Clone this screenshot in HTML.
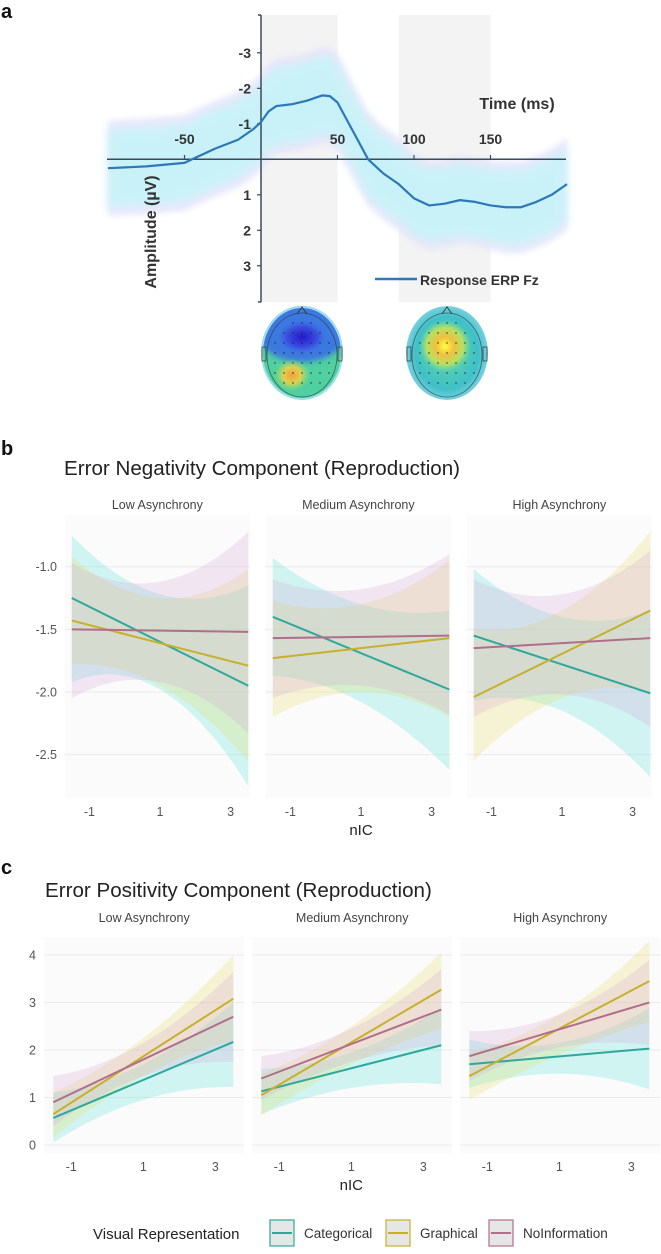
<!DOCTYPE html>
<html><head><meta charset="utf-8">
<style>
html,body{margin:0;padding:0;background:#fff;}
body{width:661px;height:1249px;overflow:hidden;font-family:"Liberation Sans",Arial,sans-serif;}
svg text{font-family:"Liberation Sans",Arial,sans-serif;}
</style></head>
<body>
<svg id="fig" width="661" height="1249" viewBox="0 0 661 1249" xmlns="http://www.w3.org/2000/svg">
<defs>
<clipPath id="clip1"><ellipse cx="302" cy="353" rx="41" ry="47"/></clipPath>
<clipPath id="clip2"><ellipse cx="447" cy="353" rx="41" ry="47"/></clipPath>
<radialGradient id="blueSpot" cx="50%" cy="50%" r="50%">
<stop offset="0" stop-color="#2418c8"/><stop offset="0.6" stop-color="#3a50e0"/><stop offset="1" stop-color="#3a80e8" stop-opacity="0"/>
</radialGradient>
<radialGradient id="orangeSpot" cx="50%" cy="50%" r="50%">
<stop offset="0" stop-color="#f0a040"/><stop offset="0.5" stop-color="#e0d050"/><stop offset="1" stop-color="#90e070" stop-opacity="0"/>
</radialGradient>
<radialGradient id="topo2" cx="50%" cy="50%" r="55%">
<stop offset="0" stop-color="#60d8a0"/><stop offset="0.7" stop-color="#40c0c8"/><stop offset="1" stop-color="#90d8ec"/>
</radialGradient>
<radialGradient id="yellowSpot" cx="50%" cy="50%" r="50%">
<stop offset="0" stop-color="#ffff40"/><stop offset="0.35" stop-color="#f0c040"/><stop offset="0.7" stop-color="#b8e060"/><stop offset="1" stop-color="#80e090" stop-opacity="0"/>
</radialGradient>
<filter id="blur3"><feGaussianBlur stdDeviation="3"/></filter>
<filter id="blur5"><feGaussianBlur stdDeviation="5"/></filter>
</defs>
</svg>
<script>
// ---------- Panel a data ----------
const erpTimes = [-100,-75,-50,-45,-30,-15,-5,0,5,10,20,30,40,45,50,60,70,80,90,100,110,120,130,140,150,160,170,180,190,200];
const erpAmps  = [0.25,0.2,0.1,0,-0.3,-0.55,-0.85,-1.05,-1.35,-1.5,-1.55,-1.65,-1.8,-1.78,-1.6,-0.8,0,0.4,0.7,1.1,1.3,1.25,1.15,1.2,1.3,1.35,1.35,1.2,1.0,0.7];
const erpHalfWidth = [1.35,1.35,1.35,1.35,1.35,1.35,1.35,1.35,1.35,1.35,1.35,1.35,1.37,1.37,1.35,1.3,1.3,1.3,1.3,1.25,1.25,1.25,1.25,1.25,1.25,1.3,1.3,1.3,1.3,1.3];
const aYTicks = [-3,-2,-1,1,2,3];
const aXTicks = [-50,50,100,150];
const aShades = [[0,50],[90,150]];

// ---------- Panel b/c data ----------
const facets = ["Low Asynchrony","Medium Asynchrony","High Asynchrony"];
const groups = ["Categorical","Graphical","NoInformation"];
const xTicksNIC = [-1,1,3];
const nicRange = [-1.5,1,3.5];
const bMeans = [
 [[-1.25,-1.95],[-1.43,-1.79],[-1.50,-1.52]],
 [[-1.40,-1.98],[-1.73,-1.57],[-1.57,-1.55]],
 [[-1.55,-2.01],[-2.04,-1.35],[-1.65,-1.57]]
];
const bUpper = [
 [[-0.75,-1.22,-1.15],[-0.92,-1.25,-1.02],[-0.97,-1.12,-0.72]],
 [[-0.93,-1.30,-1.35],[-1.27,-1.30,-0.95],[-1.10,-1.18,-0.90]],
 [[-1.02,-1.40,-1.35],[-1.50,-1.35,-0.72],[-1.10,-1.22,-0.87]]
];
const bLower = [
 [[-1.92,-1.98,-2.75],[-1.78,-1.95,-2.55],[-2.05,-1.92,-2.33]],
 [[-1.87,-2.08,-2.62],[-2.20,-2.00,-2.20],[-2.05,-1.95,-2.18]],
 [[-2.07,-2.15,-2.68],[-2.55,-2.05,-2.00],[-2.20,-2.02,-2.28]]
];
const bYTicks = [-1.0,-1.5,-2.0,-2.5];
const cMeans = [
 [[0.57,2.17],[0.65,3.08],[0.90,2.70]],
 [[1.13,2.10],[1.05,3.27],[1.40,2.85]],
 [[1.70,2.03],[1.45,3.45],[1.87,3.00]]
];
const cUpper = [
 [[1.10,1.70,3.00],[1.10,2.25,4.00],[1.45,2.15,3.65]],
 [[1.60,1.95,2.90],[1.50,2.50,4.05],[1.87,2.45,3.70]],
 [[2.22,2.15,2.88],[1.95,2.75,4.30],[2.40,2.75,3.90]]
];
const cLower = [
 [[0.05,0.95,1.22],[0.15,1.45,2.20],[0.40,1.45,1.75]],
 [[0.65,1.20,1.28],[0.62,1.70,2.45],[0.95,1.75,2.10]],
 [[1.20,1.50,1.17],[0.95,1.90,2.60],[1.35,2.05,2.10]]
];
const cYTicks = [0,1,2,3,4];

const lineColors = ["#2fa89c","#c6b02c","#b06e8c"];
const bandColors = ["#5fe3da","#e6df6a","#d6acd6"];

const NS = "http://www.w3.org/2000/svg";
const svg = document.getElementById("fig");
function mk(tag, attrs, parent){
  const e = document.createElementNS(NS, tag);
  for (const k in attrs) e.setAttribute(k, attrs[k]);
  (parent||svg).appendChild(e);
  return e;
}
function txt(str, attrs, parent){ const t = mk("text", attrs, parent); t.textContent = str; return t; }

// ================= PANEL A =================
const gA = mk("g",{});


const ax = t => 261 + t*1.53;
const ay = v => 159.3 + v*35.5;
let lab = txt("a",{x:1,y:18,"font-size":20,"font-weight":"bold",fill:"#111"},gA);


aShades.forEach(s=>{
  const r = mk("rect",{x:ax(s[0]),y:15,width:ax(s[1])-ax(s[0]),height:287,fill:"#f3f3f3"},gA);
  
  
});
function bandPath(k){
  let up = erpTimes.map((t,i)=>`${ax(t)},${ay(erpAmps[i]-erpHalfWidth[i]*k)}`);
  let lo = erpTimes.map((t,i)=>`${ax(t)},${ay(erpAmps[i]+erpHalfWidth[i]*k)}`).reverse();
  return "M"+up.join("L")+"L"+lo.join("L")+"Z";
}
let b1 = mk("path",{d:bandPath(1.0),fill:"#e8e4fa",opacity:0.85,filter:"url(#blur3)"},gA);


let b2 = mk("path",{d:bandPath(0.82),fill:"#c4f4f8",opacity:0.85,filter:"url(#blur5)"},gA);


let xAxis = mk("line",{x1:107,y1:159.3,x2:566,y2:159.3,stroke:"#3a4a5c","stroke-width":1.5},gA);


let yAxis = mk("line",{x1:261,y1:15,x2:261,y2:302,stroke:"#3a4a5c","stroke-width":1.5},gA);


mk("line",{x1:258,y1:15,x2:261,y2:15,stroke:"#3a4a5c","stroke-width":1.5},gA);
mk("line",{x1:258,y1:302,x2:261,y2:302,stroke:"#3a4a5c","stroke-width":1.5},gA);
aYTicks.forEach(v=>{
  mk("line",{x1:257,y1:ay(v),x2:261,y2:ay(v),stroke:"#3a4a5c","stroke-width":1.2},gA);
  const t = txt(String(v),{x:251,y:ay(v)+5,"font-size":14,"font-weight":"bold",fill:"#333","text-anchor":"end"},gA);
  
  
});
aXTicks.forEach(v=>{
  mk("line",{x1:ax(v),y1:155,x2:ax(v),y2:159.3,stroke:"#3a4a5c","stroke-width":1.2},gA);
  const t = txt(String(v),{x:ax(v),y:144,"font-size":14,"font-weight":"bold",fill:"#333","text-anchor":"middle"},gA);
  
  
});
let xt = txt("Time (ms)",{x:517,y:109,"font-size":16,"font-weight":"bold",fill:"#333","text-anchor":"middle"},gA);


let yt = txt("Amplitude (µV)",{x:0,y:0,"font-size":16,"font-weight":"bold",fill:"#333","text-anchor":"middle",transform:"translate(156,232) rotate(-90)"},gA);


let erp = mk("path",{d:"M"+erpTimes.map((t,i)=>`${ax(t)},${ay(erpAmps[i])}`).join("L"),fill:"none",stroke:"#2c78b8","stroke-width":2.2,"stroke-linejoin":"round"},gA);


let lg = mk("line",{x1:375,y1:279,x2:417,y2:279,stroke:"#2c78b8","stroke-width":2.5},gA);


let lt = txt("Response ERP Fz",{x:420,y:285,"font-size":14,"font-weight":"bold",fill:"#333"},gA);



function head(cx,cy,g){
  mk("ellipse",{cx:cx,cy:cy+2,rx:35,ry:42,fill:"none",stroke:"#333","stroke-width":0.8,opacity:0.7},g);
  mk("path",{d:`M${cx-5},${cy-39} L${cx},${cy-46} L${cx+5},${cy-39}`,fill:"none",stroke:"#333","stroke-width":0.8},g);
  mk("rect",{x:cx-40,y:cy-6,width:4,height:14,fill:"none",stroke:"#333","stroke-width":0.7},g);
  mk("rect",{x:cx+36,y:cy-6,width:4,height:14,fill:"none",stroke:"#333","stroke-width":0.7},g);
  for(let r=-3;r<=3;r++) for(let c=-3;c<=3;c++){
    const px=cx+c*9, py=cy+r*10;
    if(((px-cx)/32)**2+((py-cy-2)/38)**2<1) mk("circle",{cx:px,cy:py,r:0.7,fill:"#222"},g);
  }
}
const t1 = mk("g",{});


const t1c = mk("g",{"clip-path":"url(#clip1)"},t1);
mk("ellipse",{cx:302,cy:353,rx:41,ry:47,fill:"#50d0a0"},t1c);
mk("ellipse",{cx:302,cy:330,rx:46,ry:32,fill:"#3a78e0",filter:"url(#blur3)"},t1c);
mk("ellipse",{cx:302,cy:337,rx:26,ry:18,fill:"url(#blueSpot)"},t1c);
mk("ellipse",{cx:292,cy:375,rx:18,ry:16,fill:"url(#orangeSpot)"},t1c);
mk("ellipse",{cx:302,cy:353,rx:40,ry:46,fill:"none",stroke:"#9fe0ee","stroke-width":2},t1c);
head(302,353,t1);
const t2 = mk("g",{});


const t2c = mk("g",{"clip-path":"url(#clip2)"},t2);
mk("ellipse",{cx:447,cy:353,rx:41,ry:47,fill:"url(#topo2)"},t2c);
mk("ellipse",{cx:445,cy:346,rx:26,ry:26,fill:"url(#yellowSpot)"},t2c);
head(447,353,t2);

// ================= FACET PANELS =================
function quad(p, v){
  const [x0,x1,x2]=nicRange;
  return p[0]*(v-x1)*(v-x2)/((x0-x1)*(x0-x2)) + p[1]*(v-x0)*(v-x2)/((x1-x0)*(x1-x2)) + p[2]*(v-x0)*(v-x1)/((x2-x0)*(x2-x1));
}
function facetPlot(cfg){
  const g = mk("g",{});
  
  
  const l = txt(cfg.letter,{x:1,y:cfg.letterY,"font-size":20,"font-weight":"bold",fill:"#111"},g);
  
  
  const ti = txt(cfg.title,{x:cfg.titleX,y:cfg.titleY,"font-size":20.6,fill:"#222"},g);
  
  
  const yv = v => cfg.y0 + (v - cfg.yRef)*cfg.yScale;
  facets.forEach((f,i)=>{
    const xv = v => cfg.x1 + cfg.dx*i + (v-1)*cfg.xScale;
    const left = xv(cfg.xmin), right = xv(cfg.xmax);
    const bg = mk("rect",{x:left,y:cfg.top,width:right-left,height:cfg.bottom-cfg.top,fill:"#fbfbfb"},g);
    
    
    const st = txt(f,{x:(left+right)/2,y:cfg.stripY,"font-size":12.5,fill:"#444","text-anchor":"middle"},g);
    
    
    cfg.yTicks.forEach(v=>{
      const gl = mk("line",{x1:left,y1:yv(v),x2:right,y2:yv(v),stroke:"#ebebeb","stroke-width":1},g);
      
      
    });
    for(let k=0;k<3;k++){
      const pts=[]; for(let s=0;s<=24;s++) pts.push(nicRange[0]+(nicRange[2]-nicRange[0])*s/24);
      const up = pts.map(v=>`${xv(v)},${yv(quad(cfg.upper[i][k],v))}`);
      const lo = pts.map(v=>`${xv(v)},${yv(quad(cfg.lower[i][k],v))}`).reverse();
      const band = mk("path",{d:"M"+up.join("L")+"L"+lo.join("L")+"Z",fill:bandColors[k],opacity:0.28},g);
      
      
    }
    for(let k=0;k<3;k++){
      const m = cfg.means[i][k];
      const ln = mk("line",{x1:xv(nicRange[0]),y1:yv(m[0]),x2:xv(nicRange[2]),y2:yv(m[1]),stroke:lineColors[k],"stroke-width":2},g);
      
      
    }
    xTicksNIC.forEach(v=>{
      const t = txt(String(v),{x:xv(v),y:cfg.xTickY,"font-size":12.5,fill:"#555","text-anchor":"middle"},g);
      
      
    });
  });
  cfg.yTicks.forEach(v=>{
    const t = txt(cfg.fmt(v),{x:cfg.yLabX,y:yv(v)+4.5,"font-size":12.5,fill:"#555","text-anchor":"end"},g);
    
    
  });
  const xl = txt("nIC",{x:cfg.x1+cfg.dx,y:cfg.nicY,"font-size":15,fill:"#222","text-anchor":"middle"},g);
  
  
}
facetPlot({name:"error-negativity-chart",letter:"b",letterY:455,title:"Error Negativity Component (Reproduction)",titleX:64,titleY:475,
  stripY:509,top:515,bottom:798,y0:566.7,yRef:-1.0,yScale:-125.3,x1:160,dx:201,xScale:35.3,xmin:-1.7,xmax:3.55,
  means:bMeans,upper:bUpper,lower:bLower,yTicks:bYTicks,fmt:v=>v.toFixed(1),yLabX:57,xTickY:816,nicY:835});
facetPlot({name:"error-positivity-chart",letter:"c",letterY:874,title:"Error Positivity Component (Reproduction)",titleX:45,titleY:897,
  stripY:922,top:937,bottom:1153,y0:1145,yRef:0,yScale:-47.5,x1:143.3,dx:208,xScale:36,xmin:-1.75,xmax:3.8,
  means:cMeans,upper:cUpper,lower:cLower,yTicks:cYTicks,fmt:v=>String(v),yLabX:36,xTickY:1171,nicY:1190});

const lgG = mk("g",{});


const lgt = txt("Visual Representation",{x:93,y:1239,"font-size":15,fill:"#222"},lgG);


const keyX = [270,386,489];
groups.forEach((gname,k)=>{
  const key = mk("rect",{x:keyX[k],y:1220,width:24,height:26,fill:"#e6e6e6",stroke:lineColors[k],"stroke-width":1.2},lgG);
  
  
  mk("line",{x1:keyX[k]+2,y1:1233,x2:keyX[k]+22,y2:1233,stroke:lineColors[k],"stroke-width":2},lgG);
  const t = txt(gname,{x:keyX[k]+34,y:1238,"font-size":13.5,fill:"#333"},lgG);
  
  
});
</script>
</body></html>
